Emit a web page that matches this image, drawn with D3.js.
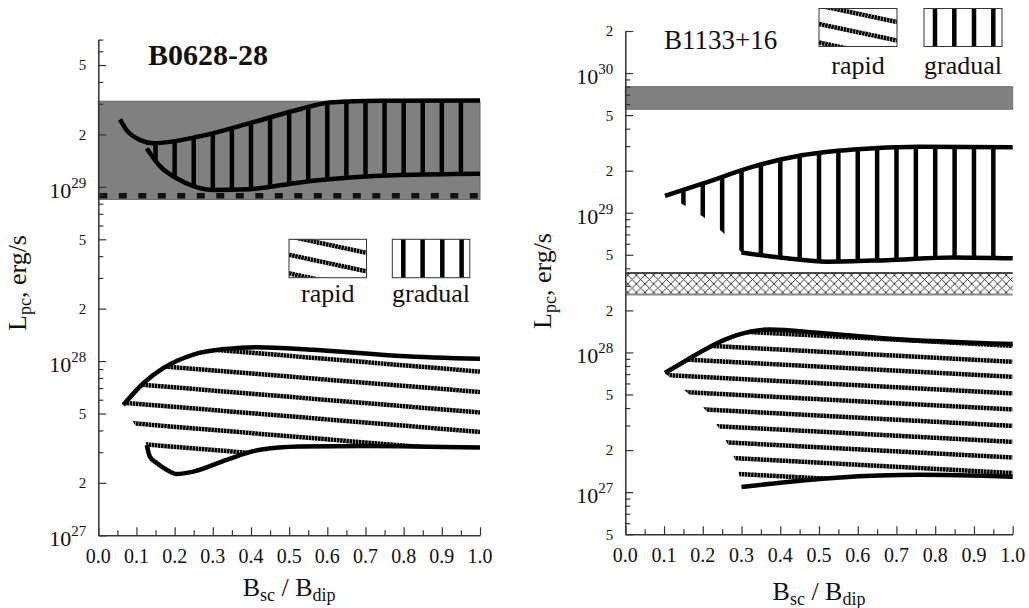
<!DOCTYPE html>
<html>
<head>
<meta charset="utf-8">
<script src="https://cdn.jsdelivr.net/npm/d3@7"></script>
<style>
  body { margin: 0; background: #fff; }
</style>
</head>
<body>
<svg id="svg" width="1029" height="608"></svg>
<script>
// x axis
const xTickValues = [0, 0.1, 0.2, 0.3, 0.4, 0.5, 0.6, 0.7, 0.8, 0.9, 1.0]
const xTickLabels = ["0.0", "0.1", "0.2", "0.3", "0.4", "0.5", "0.6", "0.7", "0.8", "0.9", "1.0"]
const xMinorTicks = [0.05, 0.15, 0.25, 0.35, 0.45, 0.55, 0.65, 0.75, 0.85, 0.95]
const gradualBarsX = [0.15, 0.2, 0.25, 0.3, 0.35, 0.4, 0.45, 0.5, 0.55, 0.6, 0.65, 0.7, 0.75, 0.8, 0.85, 0.9, 0.95]

// B0628-28
const leftBand = [8.47e28, 3.1e29]
const leftDashed = 8.9e28
const leftGradUpper = [[0.057, 2.44e29], [0.074, 2.12e29], [0.109, 1.86e29], [0.144, 1.78e29],
  [0.266, 1.95e29], [0.397, 2.32e29], [0.528, 2.79e29], [0.607, 3.05e29], [0.738, 3.12e29], [1.0, 3.13e29]]
const leftGradLower = [[0.127, 1.66e29], [0.162, 1.31e29], [0.205, 1.12e29], [0.249, 1.01e29], [0.301, 9.6e28],
  [0.397, 9.7e28], [0.528, 1.06e29], [0.659, 1.13e29], [0.79, 1.17e29], [1.0, 1.19e29]]
const leftRapidUpper = [[0.0655, 5.6e27], [0.118, 7.46e27], [0.17, 9.1e27], [0.249, 1.09e28], [0.336, 1.175e28],
  [0.415, 1.2e28], [0.563, 1.16e28], [0.79, 1.07e28], [1.0, 1.03e28]]
const leftRapidLower = [[0.127, 3.3e27], [0.135, 2.83e27], [0.153, 2.6e27], [0.179, 2.38e27], [0.205, 2.25e27],
  [0.249, 2.32e27], [0.336, 2.71e27], [0.424, 3.1e27], [0.528, 3.23e27], [0.703, 3.26e27], [1.0, 3.19e27]]
// hatch lines: [value at x=0, value at x=1]
const leftHatch = [[1.32e28, 8.7e27], [1.0e28, 6.64e27], [7.67e27, 5.07e27], [5.93e27, 3.92e27],
  [4.56e27, 3.01e27], [3.5e27, 2.31e27]]

// B1133+16
const rightBand = [5.5e29, 8e29]
const rightCross = [2.6e28, 3.7e28]
const rightGradUpper = [[0.1025, 1.32e29], [0.201, 1.62e29], [0.33, 2.14e29], [0.459, 2.59e29], [0.589, 2.84e29],
  [0.76, 2.97e29], [1.0, 2.94e29]]
const rightGradLower = [[0.3, 5.2e28], [0.417, 4.72e28], [0.52, 4.46e28], [0.675, 4.58e28], [0.847, 4.79e28], [1.0, 4.72e28]]
const rightGradStubs = [[0.25, 7.3e28], [0.2, 9.4e28], [0.15, 1.14e29]]
const rightRapidUpper = [[0.1025, 7.14e27], [0.158, 8.8e27], [0.219, 1.1e28], [0.288, 1.33e28], [0.373, 1.46e28],
  [0.503, 1.38e28], [0.675, 1.26e28], [1.0, 1.15e28]]
const rightRapidLower = [[0.3, 1.09e27], [0.546, 1.27e27], [0.76, 1.33e27], [1.0, 1.29e27]]
const rightRapidEdge = [[0.296, 1.26e27], [0.286, 1.65e27], [0.266, 2.17e27], [0.241, 2.9e27], [0.206, 3.9e27], [0.158, 5.2e27]]
const rightHatch = [[1.56e28, 1.115e28], [1.2e28, 8.57e27], [9.38e27, 6.69e27], [7.14e27, 5.09e27], [5.48e27, 3.91e27],
  [4.19e27, 2.98e27], [3.21e27, 2.29e27], [2.48e27, 1.77e27], [1.93e27, 1.37e27], [1.49e27, 1.06e27]]

const FONT = "Liberation Serif"
const svg = d3.select("#svg").attr("font-family", FONT)
const defs = svg.append("defs")

// crosshatch pattern
const xp = defs.append("pattern").attr("id", "xhatch").attr("patternUnits", "userSpaceOnUse")
  .attr("width", 8.6).attr("height", 8.6)
xp.append("path").attr("d", "M0,0L8.6,8.6M0,8.6L8.6,0").attr("stroke", "#222").attr("stroke-width", 0.9)

const RAPID_DASH = "2.6,0.55"
const LW = 4.5

function txt(sel, size) {
  return sel.append("text").attr("font-family", FONT).attr("font-size", size).attr("fill", "#111")
}

function clipUrl(id, d) {
  defs.append("clipPath").attr("id", id).append("path").attr("d", d)
  return `url(#${id})`
}

function rapidLines(g, x, y, hatch, clip) {
  g.append("g").attr("clip-path", clip)
    .selectAll("line").data(hatch).join("line")
      .attr("x1", x(0)).attr("x2", x(1))
      .attr("y1", d => y(d[0])).attr("y2", d => y(d[1]))
      .attr("stroke", "#000").attr("stroke-width", LW)
      .attr("stroke-dasharray", RAPID_DASH)
}

function gradualBars(g, x, y, clip) {
  g.append("g").attr("clip-path", clip)
    .selectAll("line").data(gradualBarsX).join("line")
      .attr("x1", d => x(d)).attr("x2", d => x(d))
      .attr("y1", y.range()[0]).attr("y2", y.range()[1])
      .attr("stroke", "#000").attr("stroke-width", LW)
}

function curve(g, line, pts) {
  g.append("path").attr("d", line(pts)).attr("fill", "none")
    .attr("stroke", "#000").attr("stroke-width", LW)
}

function legend(g, rx, gx, top, w, h, labelY) {
  const lg = g.append("g")
  const rc = clipUrl("lgr" + rx, `M${rx},${top}h${w}v${h}h${-w}Z`)
  lg.append("g").attr("clip-path", rc).selectAll("line").data([-3, 15.5, 34]).join("line")
    .attr("x1", rx).attr("x2", rx + w).attr("y1", d => top + d).attr("y2", d => top + d + 16.5)
    .attr("stroke", "#000").attr("stroke-width", LW).attr("stroke-dasharray", RAPID_DASH)
  lg.append("g").selectAll("line").data([11, 30.3, 50, 69.3]).join("line")
    .attr("x1", d => gx + d).attr("x2", d => gx + d).attr("y1", top).attr("y2", top + h)
    .attr("stroke", "#000").attr("stroke-width", LW)
  lg.selectAll("rect").data([rx, gx]).join("rect")
    .attr("x", d => d).attr("y", top).attr("width", w).attr("height", h)
    .attr("fill", "none").attr("stroke", "#333").attr("stroke-width", 1)
  txt(lg, 26).attr("x", rx + w / 2).attr("y", labelY).attr("text-anchor", "middle").text("rapid")
  txt(lg, 26).attr("x", gx + w / 2).attr("y", labelY).attr("text-anchor", "middle").text("gradual")
}

function axes(g, p, x, y) {
  // x axis
  const xa = g.append("g").attr("transform", `translate(0,${p.bottom})`)
    .call(d3.axisBottom(x).tickValues(xTickValues.concat(xMinorTicks)).tickSizeInner(-5).tickSizeOuter(0).tickFormat(""))
  xa.selectAll(".tick line").attr("y2", d => xMinorTicks.includes(d) ? -5 : -8)
  xa.selectAll(".tick text").remove()
  xTickValues.forEach((v, i) => {
    txt(xa, 20).attr("x", x(v)).attr("y", 28).attr("text-anchor", "middle").text(xTickLabels[i])
  })

  // y axis (log)
  const [lo, hi] = y.domain()
  const yt = []
  for (let e = Math.floor(Math.log10(lo)); e <= Math.ceil(Math.log10(hi)); e++) {
    for (let m = 1; m <= 9; m++) {
      const v = m * Math.pow(10, e)
      if (v >= lo * 0.999 && v <= hi * 1.001) yt.push({ v, m, e })
    }
  }
  const ya = g.append("g").attr("transform", `translate(${p.left},0)`)
    .call(d3.axisLeft(y).tickValues(yt.map(d => d.v)).tickSizeInner(-5).tickSizeOuter(0).tickFormat(""))
  ya.selectAll(".tick line").attr("x2", (d, i) => [1, 2, 5].includes(yt[i].m) ? 8 : 5)
  ya.selectAll(".tick text").remove()
  yt.filter(d => [1, 2, 5].includes(d.m)).forEach(d => {
    if (d.m !== 1) {
      txt(ya, 15).attr("x", -12).attr("y", y(d.v)).attr("dy", "0.36em").attr("text-anchor", "end").text(d.m)
    } else {
      const t = txt(ya, 22).attr("x", -12).attr("y", y(d.v) + 11).attr("text-anchor", "end")
      t.append("tspan").text("10")
      t.append("tspan").attr("font-size", 15).attr("dy", -10).text(d.e)
    }
  })
  g.selectAll(".domain").attr("stroke", "#333").attr("stroke-width", 1.5)
  g.selectAll(".tick line").attr("stroke", "#333").attr("stroke-width", 1.2)

  // axis titles
  const xt = txt(g, 26).attr("x", (p.left + p.right) / 2).attr("y", p.xLabelY).attr("text-anchor", "middle")
  xt.append("tspan").text("B")
  xt.append("tspan").attr("font-size", 18).attr("dy", 5).text("sc")
  xt.append("tspan").attr("dy", -5).text(" / B")
  xt.append("tspan").attr("font-size", 18).attr("dy", 5).text("dip")

  const ytl = txt(g, 26).attr("transform", `translate(${p.yLabelX},${p.yLabelY}) rotate(-90)`)
    .attr("text-anchor", "middle")
  ytl.append("tspan").text("L")
  ytl.append("tspan").attr("font-size", 18).attr("dy", 5).text("pc")
  ytl.append("tspan").attr("dy", -5).text(", erg/s")
}

function panelScales(p) {
  const x = d3.scaleLinear().domain([0, 1]).range([p.left, p.right])
  const y = d3.scaleLog().domain(p.yDomain).range([p.bottom, p.top])
  const line = d3.line().x(d => x(d[0])).y(d => y(d[1])).curve(d3.curveMonotoneX)
  return { x, y, line }
}
const rev = a => a.slice().reverse()
const toL = s => s.replace(/^M/, "L")

// ---------- left panel ----------
{
  const p = { left: 98.3, right: 480, top: 39.6, bottom: 535.3, yDomain: [1e27, 7e29],
    xLabelY: 596, yLabelX: 26, yLabelY: 283 }
  const { x, y, line } = panelScales(p)
  const g = svg.append("g")

  g.append("rect").attr("x", p.left).attr("width", p.right - p.left)
    .attr("y", y(leftBand[1])).attr("height", y(leftBand[0]) - y(leftBand[1]))
    .attr("fill", "#808080").attr("stroke", "#666").attr("stroke-width", 1)
  g.append("line").attr("x1", p.left + 1).attr("x2", p.right)
    .attr("y1", y(leftDashed)).attr("y2", y(leftDashed))
    .attr("stroke", "#111").attr("stroke-width", 5.5).attr("stroke-dasharray", "8,11.5")

  const gClip = clipUrl("lgrad", line(leftGradLower) + toL(line(rev(leftGradUpper))) + "Z")
  gradualBars(g, x, y, gClip)
  curve(g, line, leftGradUpper)
  curve(g, line, leftGradLower)

  const rClip = clipUrl("lrap", line(leftRapidUpper) + toL(line(rev(leftRapidLower))) + "Z")
  rapidLines(g, x, y, leftHatch, rClip)
  curve(g, line, leftRapidUpper)
  curve(g, line, leftRapidLower)

  axes(g, p, x, y)
  legend(g, 289, 392.3, 239.3, 77.5, 38.4, 302)
  txt(g, 30).attr("x", 148).attr("y", 65).attr("font-weight", "bold").text("B0628-28")
}

// ---------- right panel ----------
{
  const p = { left: 625.3, right: 1012.7, top: 31, bottom: 534.2, yDomain: [5e26, 2e30],
    xLabelY: 600, yLabelX: 551, yLabelY: 281 }
  const { x, y, line } = panelScales(p)
  const g = svg.append("g")

  g.append("rect").attr("x", p.left).attr("width", p.right - p.left)
    .attr("y", y(rightBand[1])).attr("height", y(rightBand[0]) - y(rightBand[1]))
    .attr("fill", "#808080").attr("stroke", "#777").attr("stroke-width", 1)
  g.append("rect").attr("x", p.left).attr("width", p.right - p.left)
    .attr("y", y(rightCross[1])).attr("height", y(rightCross[0]) - y(rightCross[1]))
    .attr("fill", "url(#xhatch)")
  g.append("line").attr("x1", p.left).attr("x2", p.right).attr("y1", y(rightCross[1])).attr("y2", y(rightCross[1]))
    .attr("stroke", "#111").attr("stroke-width", 1.5)
  g.append("line").attr("x1", p.left).attr("x2", p.right).attr("y1", y(rightCross[0])).attr("y2", y(rightCross[0]))
    .attr("stroke", "#888").attr("stroke-width", 2)

  const stubs = rightGradStubs.map(d => `L${x(d[0])},${y(d[1])}`).join("")
  const gClip = clipUrl("rgrad", line(rightGradUpper) + toL(line(rev(rightGradLower))) + stubs + "Z")
  gradualBars(g, x, y, gClip)
  curve(g, line, rightGradUpper)
  curve(g, line, rightGradLower)

  const edge = rightRapidEdge.map(d => `L${x(d[0])},${y(d[1])}`).join("")
  const rClip = clipUrl("rrap", line(rightRapidUpper) + toL(line(rev(rightRapidLower))) + edge + "Z")
  rapidLines(g, x, y, rightHatch, rClip)
  curve(g, line, rightRapidUpper)
  curve(g, line, rightRapidLower)

  axes(g, p, x, y)
  legend(g, 819, 924, 8.5, 78, 38, 74)
  txt(g, 27).attr("x", 664).attr("y", 49).text("B1133+16")
}
</script>
</body>
</html>
